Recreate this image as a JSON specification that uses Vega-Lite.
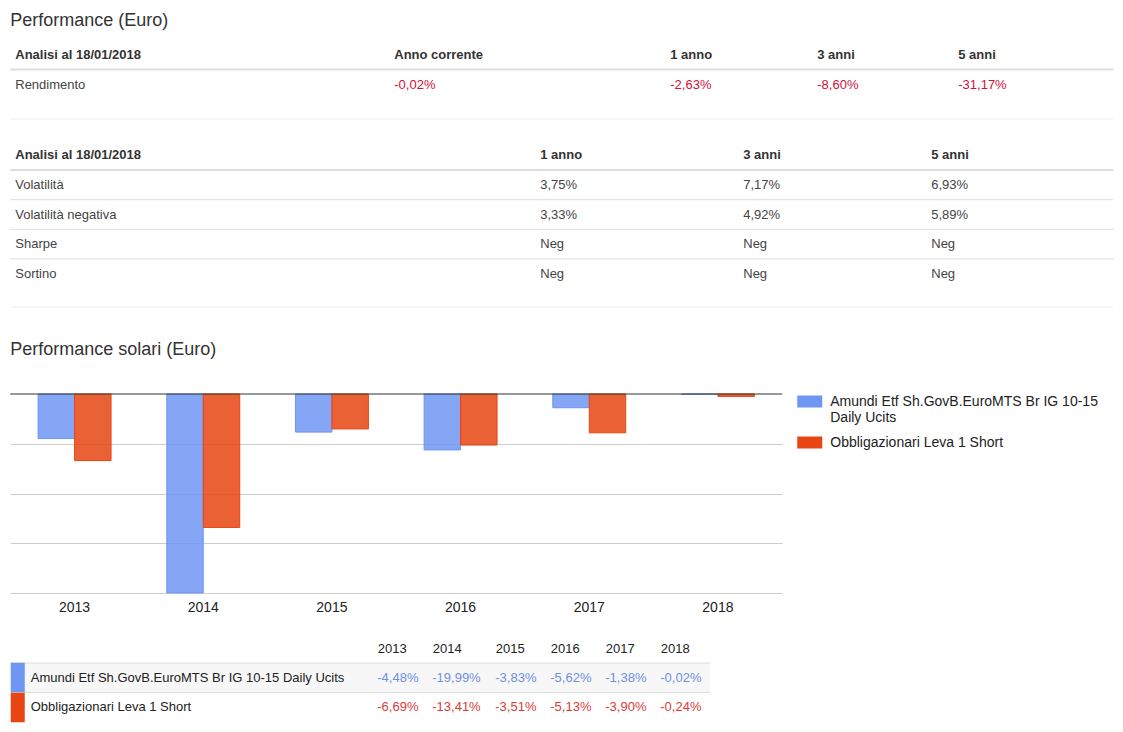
{
  "$schema": "https://vega.github.io/schema/vega-lite/v6.json",
  "background": "white",
  "padding": {"left": -4.75, "top": 0, "right": 10, "bottom": 0},
  "bounds": "flush",
  "spacing": 0,
  "config": {
    "font": "Liberation Sans",
    "view": {"stroke": null},
    "locale": {"number": {"decimal": ",", "thousands": ".", "grouping": [3], "currency": ["€", ""], "minus": "-", "percent": "%"}},
    "title": {"anchor": "start", "frame": "group", "fontSize": 18, "fontWeight": "normal", "color": "#333", "font": "Liberation Sans"},
    "text": {"font": "Liberation Sans"},
    "axis": {"labelFont": "Liberation Sans"},
    "legend": {"labelFont": "Liberation Sans"}
  },
  "datasets": {
    "perf": [
      {"series": "Amundi Etf Sh.GovB.EuroMTS Br IG 10-15 Daily Ucits", "year": 2013, "value": -0.0448},
      {"series": "Amundi Etf Sh.GovB.EuroMTS Br IG 10-15 Daily Ucits", "year": 2014, "value": -0.1999},
      {"series": "Amundi Etf Sh.GovB.EuroMTS Br IG 10-15 Daily Ucits", "year": 2015, "value": -0.0383},
      {"series": "Amundi Etf Sh.GovB.EuroMTS Br IG 10-15 Daily Ucits", "year": 2016, "value": -0.0562},
      {"series": "Amundi Etf Sh.GovB.EuroMTS Br IG 10-15 Daily Ucits", "year": 2017, "value": -0.0138},
      {"series": "Amundi Etf Sh.GovB.EuroMTS Br IG 10-15 Daily Ucits", "year": 2018, "value": -0.0002},
      {"series": "Obbligazionari Leva 1 Short", "year": 2013, "value": -0.0669},
      {"series": "Obbligazionari Leva 1 Short", "year": 2014, "value": -0.1341},
      {"series": "Obbligazionari Leva 1 Short", "year": 2015, "value": -0.0351},
      {"series": "Obbligazionari Leva 1 Short", "year": 2016, "value": -0.0513},
      {"series": "Obbligazionari Leva 1 Short", "year": 2017, "value": -0.039},
      {"series": "Obbligazionari Leva 1 Short", "year": 2018, "value": -0.0024}
    ]
  },
  "vconcat": [
    {
      "title": {"text": "Performance (Euro)", "offset": -30},
      "width": 1103,
      "height": 119,
      "data": {"values": [
        {"row": "Analisi al 18/01/2018", "section": "header", "col": 0, "text": "Analisi al 18/01/2018"},
        {"row": "Analisi al 18/01/2018", "section": "header", "col": 1, "text": "Anno corrente"},
        {"row": "Analisi al 18/01/2018", "section": "header", "col": 2, "text": "1 anno"},
        {"row": "Analisi al 18/01/2018", "section": "header", "col": 3, "text": "3 anni"},
        {"row": "Analisi al 18/01/2018", "section": "header", "col": 4, "text": "5 anni"},
        {"row": "Rendimento", "section": "body", "col": 0, "text": "Rendimento"},
        {"row": "Rendimento", "section": "body", "col": 1, "text": "-0,02%"},
        {"row": "Rendimento", "section": "body", "col": 2, "text": "-2,63%"},
        {"row": "Rendimento", "section": "body", "col": 3, "text": "-8,60%"},
        {"row": "Rendimento", "section": "body", "col": 4, "text": "-31,17%"}
      ]},
      "encoding": {
        "y": {"field": "row", "type": "nominal", "axis": null,
              "scale": {"domain": ["Analisi al 18/01/2018", "Rendimento"], "range": [39.5, 99.5], "paddingInner": 0, "paddingOuter": 0}}
      },
      "layer": [
        {
          "transform": [{"filter": "datum.col == 0 && datum.section == 'header'"}],
          "mark": {"type": "rule", "color": "#ddd", "strokeWidth": 2},
          "encoding": {"y": {"field": "row", "type": "nominal", "bandPosition": 1}}
        },
        {
          "transform": [{"filter": "datum.col == 0 && datum.section == 'header'"}],
          "mark": {"type": "rule", "color": "#eee", "strokeWidth": 1},
          "encoding": {"y": {"value": "height"}}
        },
        {
          "transform": [{"filter": "datum.section == 'header'"}],
          "mark": {"type": "text", "align": "left", "baseline": "middle", "fontSize": 13, "fontWeight": "bold", "color": "#333"},
          "encoding": {
            "x": {"field": "col", "type": "quantitative", "axis": null,
                  "scale": {"domain": [0, 1, 2, 3, 4], "range": [5, 384, 660, 807, 948], "nice": false, "zero": false}},
            "text": {"field": "text"}
          }
        },
        {
          "transform": [{"filter": "datum.section == 'body'"}],
          "mark": {"type": "text", "align": "left", "baseline": "middle", "fontSize": 13},
          "encoding": {
            "x": {"field": "col", "type": "quantitative", "axis": null},
            "text": {"field": "text"},
            "color": {"condition": {"test": "datum.col > 0", "value": "#d0103a"}, "value": "#444"}
          }
        }
      ]
    },
    {
      "width": 1103,
      "height": 188,
      "data": {"values": [
        {"row": "Analisi al 18/01/2018", "section": "header", "col": 0, "text": "Analisi al 18/01/2018"},
        {"row": "Analisi al 18/01/2018", "section": "header", "col": 1, "text": "1 anno"},
        {"row": "Analisi al 18/01/2018", "section": "header", "col": 2, "text": "3 anni"},
        {"row": "Analisi al 18/01/2018", "section": "header", "col": 3, "text": "5 anni"},
        {"row": "Volatilità", "section": "body", "col": 0, "text": "Volatilità"},
        {"row": "Volatilità", "section": "body", "col": 1, "text": "3,75%"},
        {"row": "Volatilità", "section": "body", "col": 2, "text": "7,17%"},
        {"row": "Volatilità", "section": "body", "col": 3, "text": "6,93%"},
        {"row": "Volatilità negativa", "section": "body", "col": 0, "text": "Volatilità negativa"},
        {"row": "Volatilità negativa", "section": "body", "col": 1, "text": "3,33%"},
        {"row": "Volatilità negativa", "section": "body", "col": 2, "text": "4,92%"},
        {"row": "Volatilità negativa", "section": "body", "col": 3, "text": "5,89%"},
        {"row": "Sharpe", "section": "body", "col": 0, "text": "Sharpe"},
        {"row": "Sharpe", "section": "body", "col": 1, "text": "Neg"},
        {"row": "Sharpe", "section": "body", "col": 2, "text": "Neg"},
        {"row": "Sharpe", "section": "body", "col": 3, "text": "Neg"},
        {"row": "Sortino", "section": "body", "col": 0, "text": "Sortino"},
        {"row": "Sortino", "section": "body", "col": 1, "text": "Neg"},
        {"row": "Sortino", "section": "body", "col": 2, "text": "Neg"},
        {"row": "Sortino", "section": "body", "col": 3, "text": "Neg"}
      ]},
      "encoding": {
        "y": {"field": "row", "type": "nominal", "axis": null,
              "scale": {"domain": ["Analisi al 18/01/2018", "Volatilità", "Volatilità negativa", "Sharpe", "Sortino"], "range": [21.5, 169.5], "paddingInner": 0, "paddingOuter": 0}}
      },
      "layer": [
        {
          "transform": [{"filter": "datum.col == 0 && datum.section == 'header'"}],
          "mark": {"type": "rule", "color": "#ddd", "strokeWidth": 2},
          "encoding": {"y": {"field": "row", "type": "nominal", "bandPosition": 1}}
        },
        {
          "transform": [{"filter": "datum.col == 0 && datum.section == 'body' && datum.row != 'Sortino'"}],
          "mark": {"type": "rule", "color": "#ddd", "strokeWidth": 1},
          "encoding": {"y": {"field": "row", "type": "nominal", "bandPosition": 1}}
        },
        {
          "transform": [{"filter": "datum.col == 0 && datum.section == 'header'"}],
          "mark": {"type": "rule", "color": "#eee", "strokeWidth": 1},
          "encoding": {"y": {"value": "height"}}
        },
        {
          "transform": [{"filter": "datum.section == 'header'"}],
          "mark": {"type": "text", "align": "left", "baseline": "middle", "fontSize": 13, "fontWeight": "bold", "color": "#333"},
          "encoding": {
            "x": {"field": "col", "type": "quantitative", "axis": null,
                  "scale": {"domain": [0, 1, 2, 3], "range": [5, 530, 733, 921], "nice": false, "zero": false}},
            "text": {"field": "text"}
          }
        },
        {
          "transform": [{"filter": "datum.section == 'body'"}],
          "mark": {"type": "text", "align": "left", "baseline": "middle", "fontSize": 13, "color": "#444"},
          "encoding": {
            "x": {"field": "col", "type": "quantitative", "axis": null},
            "text": {"field": "text"}
          }
        }
      ]
    },
    {
      "title": {"text": "Performance solari (Euro)", "offset": -52},
      "width": 772,
      "height": 286,
      "layer": [
        {
          "data": {"name": "perf"},
          "mark": {"type": "bar", "fillOpacity": 0.85, "strokeWidth": 1},
          "encoding": {
            "x": {"field": "year", "type": "ordinal",
                  "scale": {"paddingInner": 0.433, "paddingOuter": 0.2165},
                  "axis": {"title": null, "domain": false, "ticks": false, "labelAngle": 0, "labelFontSize": 14, "labelColor": "#222", "labelPadding": 7}},
            "xOffset": {"field": "series", "type": "nominal"},
            "y": {"field": "value", "type": "quantitative",
                  "scale": {"domain": [-0.2, 0], "range": [286, 87], "nice": false, "zero": false},
                  "axis": {"title": null, "labels": false, "ticks": false, "domain": false, "grid": true, "gridColor": "#ccc", "values": [-0.2, -0.15, -0.1, -0.05], "minExtent": 0, "maxExtent": 0}},
            "color": {"field": "series", "type": "nominal", "title": null,
                      "scale": {"range": ["#6e96f2", "#e84513"]},
                      "legend": {
                        "orient": "none", "legendX": 787, "legendY": 389,
                        "symbolType": "M-1,-0.48H1V0.48H-1Z", "symbolSize": 625, "symbolStrokeWidth": 0, "symbolOpacity": 1,
                        "labelFontSize": 14, "labelColor": "#222", "labelOffset": 8, "labelLimit": 400, "rowPadding": 5,
                        "labelExpr": "length(datum.label) > 40 ? [substring(datum.label, 0, lastindexof(substring(datum.label, 0, 40), ' ')), substring(datum.label, lastindexof(substring(datum.label, 0, 40), ' ') + 1)] : datum.label"
                      }},
            "stroke": {"field": "series", "type": "nominal", "scale": {"range": ["#6e96f2", "#e84513"]}, "legend": null}
          }
        },
        {
          "data": {"values": [{"baseline": 0}]},
          "mark": {"type": "rule", "color": "#333", "strokeWidth": 1},
          "encoding": {"y": {"field": "baseline", "type": "quantitative"}}
        }
      ]
    },
    {
      "width": 700,
      "height": 139,
      "data": {"name": "perf"},
      "encoding": {
        "y": {"field": "series", "type": "nominal",
              "scale": {"range": [70, 129], "paddingInner": 0, "paddingOuter": 0},
              "axis": {"orient": "left", "offset": -14, "title": null, "domain": false, "grid": false, "ticks": true, "tickSize": 14, "tickWidth": 29.5, "tickCap": "butt",
                       "tickColor": {"condition": {"test": "datum.value == 'Amundi Etf Sh.GovB.EuroMTS Br IG 10-15 Daily Ucits'", "value": "#6e96f2"}, "value": "#e84513"},
                       "labelAlign": "left", "labelPadding": -20, "labelFontSize": 13, "labelColor": "#222", "labelLimit": 400, "zindex": 1,
                       "minExtent": 0, "maxExtent": 0}}
      },
      "layer": [
        {
          "transform": [{"filter": "datum.year == 2013 && datum.series == 'Amundi Etf Sh.GovB.EuroMTS Br IG 10-15 Daily Ucits'"}],
          "mark": {"type": "rect", "color": "#f7f7f7"}
        },
        {
          "transform": [{"filter": "datum.year == 2013"}],
          "mark": {"type": "rule", "color": "#ddd", "strokeWidth": 1},
          "encoding": {"y": {"field": "series", "type": "nominal", "bandPosition": 0}}
        },
        {
          "mark": {"type": "text", "align": "left", "baseline": "middle", "fontSize": 13},
          "encoding": {
            "x": {"field": "year", "type": "quantitative",
                  "scale": {"domain": [2013, 2014, 2015, 2016, 2017, 2018], "range": [367, 422, 485, 540, 595, 650], "nice": false, "zero": false},
                  "axis": {"orient": "top", "offset": -70, "values": [2013, 2014, 2015, 2016, 2017, 2018], "format": "d", "title": null, "domain": false, "ticks": false, "grid": false, "labelAlign": "left", "labelFlush": false, "labelOverlap": false, "labelPadding": 7.5, "labelFontSize": 13, "labelColor": "#222"}},
            "text": {"field": "value", "type": "quantitative", "format": ".2%"},
            "color": {"condition": {"test": "datum.series == 'Obbligazionari Leva 1 Short'", "value": "#dc3a3a"}, "value": "#6f8fe3"}
          }
        }
      ]
    }
  ]
}
